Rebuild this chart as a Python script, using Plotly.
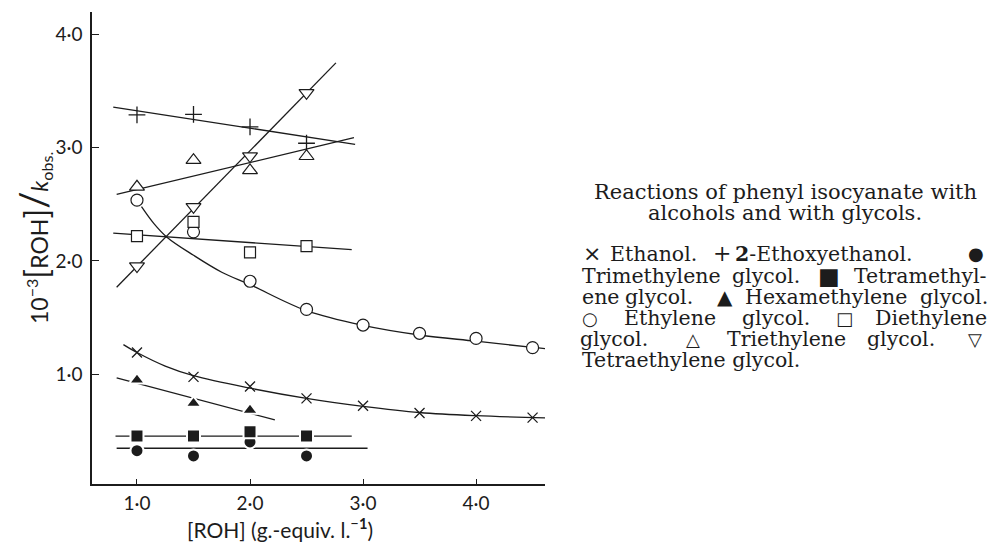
import plotly.graph_objects as go

# ---------------- data ----------------
ethanol_x = [1.0, 1.5, 2.0, 2.5, 3.0, 3.5, 4.0, 4.5]
ethanol_y = [1.19, 0.975, 0.89, 0.785, 0.72, 0.655, 0.63, 0.615]
ethoxy_x = [1.0, 1.5, 2.0, 2.5]
ethoxy_y = [3.29, 3.295, 3.185, 3.04]
trimeth_x = [1.0, 1.5, 2.0, 2.5]
trimeth_y = [0.323, 0.276, 0.40, 0.276]
tetrameth_x = [1.0, 1.5, 2.0, 2.5]
tetrameth_y = [0.452, 0.452, 0.49, 0.452]
hexameth_x = [1.0, 1.5, 2.0]
hexameth_y = [0.947, 0.741, 0.68]
ethylene_x = [1.0, 1.5, 2.0, 2.5, 3.0, 3.5, 4.0, 4.5]
ethylene_y = [2.537, 2.257, 1.82, 1.571, 1.433, 1.36, 1.315, 1.233]
diethylene_x = [1.0, 1.5, 2.0, 2.5]
diethylene_y = [2.219, 2.345, 2.075, 2.13]
triethylene_x = [1.0, 1.5, 2.0, 2.5]
triethylene_y = [2.655, 2.89, 2.80, 2.925]
tetraethylene_x = [1.0, 1.5, 2.0, 2.5]
tetraethylene_y = [1.954, 2.478, 2.926, 3.485]

# drawn (fitted) curves
ethanol_fit_x = [0.88, 1.0, 1.25, 1.5, 2.0, 2.5, 3.0, 3.5, 4.0, 4.64]
ethanol_fit_y = [1.26, 1.19, 1.07, 0.985, 0.875, 0.785, 0.715, 0.66, 0.632, 0.612]
ethoxy_fit_x = [0.79, 2.93]
ethoxy_fit_y = [3.36, 3.03]
trimeth_fit_x = [0.82, 3.04]
trimeth_fit_y = [0.344, 0.344]
tetrameth_fit_x = [0.81, 2.9]
tetrameth_fit_y = [0.452, 0.452]
hexameth_fit_x = [0.82, 2.22]
hexameth_fit_y = [0.967, 0.594]
ethylene_fit_x = [1.04, 1.15, 1.265, 1.5, 1.75, 2.0, 2.5, 3.0, 3.5, 4.0, 4.5, 4.65]
ethylene_fit_y = [2.48, 2.33, 2.21, 2.05, 1.9, 1.79, 1.56, 1.43, 1.345, 1.29, 1.235, 1.22]
diethylene_fit_x = [0.79, 2.9]
diethylene_fit_y = [2.245, 2.10]
triethylene_fit_x = [0.82, 2.92]
triethylene_fit_y = [2.587, 3.09]
tetraethylene_fit_x = [0.82, 2.76]
tetraethylene_fit_y = [1.767, 3.75]

x_ticks = [1, 2, 3, 4]
x_ticktext = ["1·0", "2·0", "3·0", "4·0"]
y_ticks = [1, 2, 3, 4]
y_ticktext = ["1·0", "2·0", "3·0", "4·0"]

INK = "#1c1c1c"

fig = go.Figure()

fits = [
    (ethanol_fit_x, ethanol_fit_y, "spline"),
    (ethoxy_fit_x, ethoxy_fit_y, "linear"),
    (trimeth_fit_x, trimeth_fit_y, "linear"),
    (tetrameth_fit_x, tetrameth_fit_y, "linear"),
    (hexameth_fit_x, hexameth_fit_y, "linear"),
    (ethylene_fit_x, ethylene_fit_y, "spline"),
    (diethylene_fit_x, diethylene_fit_y, "linear"),
    (triethylene_fit_x, triethylene_fit_y, "linear"),
    (tetraethylene_fit_x, tetraethylene_fit_y, "linear"),
]
for fx, fy, shp in fits:
    fig.add_trace(go.Scatter(x=fx, y=fy, mode="lines",
                             line=dict(color=INK, width=1.3, shape=shp, smoothing=1.0),
                             hoverinfo="skip", showlegend=False))

series = [
    ("Ethanol", ethanol_x, ethanol_y, "x-thin", 10, INK, INK, 1.3),
    ("2-Ethoxyethanol", ethoxy_x, ethoxy_y, "cross-thin", 12, INK, INK, 1.3),
    ("Trimethylene glycol", trimeth_x, trimeth_y, "circle", 13, INK, "white", 2),
    ("Tetramethylene glycol", tetrameth_x, tetrameth_y, "square", 13, INK, "white", 2),
    ("Hexamethylene glycol", hexameth_x, hexameth_y, "triangle-up", 14, INK, "white", 2),
    ("Ethylene glycol", ethylene_x, ethylene_y, "circle", 12, "white", INK, 1.2),
    ("Diethylene glycol", diethylene_x, diethylene_y, "square", 11, "white", INK, 1.2),
    ("Triethylene glycol", triethylene_x, triethylene_y, "triangle-up", 13, "white", INK, 1.2),
    ("Tetraethylene glycol", tetraethylene_x, tetraethylene_y, "triangle-down", 13, "white", INK, 1.2),
]
for name, sx, sy, sym_, sz, fill, edge, lw in series:
    fig.add_trace(go.Scatter(x=sx, y=sy, mode="markers", name=name,
                             marker=dict(symbol=sym_, size=sz, color=fill,
                                         line=dict(color=edge, width=lw)),
                             showlegend=False))

# plot area in pixels
L, R, T, B = 92, 545, 12, 484
W_FIG, H_FIG = 991, 545


def pxx(p):
    return (p - L) / (R - L)


def pxy(p):
    return (B - p) / (B - T)


AXFONT = dict(family="Lato, DejaVu Sans, sans-serif", size=19, color=INK)

fig.update_layout(
    width=W_FIG, height=H_FIG,
    margin=dict(l=L, r=W_FIG - R, t=T, b=H_FIG - B),
    paper_bgcolor="white", plot_bgcolor="white",
    xaxis=dict(range=[0.602, 4.61], tickvals=x_ticks, ticktext=x_ticktext,
               ticks="inside", ticklen=5, tickwidth=1.3, tickcolor=INK,
               showline=True, linecolor=INK, linewidth=1.5, showgrid=False,
               zeroline=False, tickfont=AXFONT, ticklabelstandoff=1),
    yaxis=dict(range=[0.028, 4.2], tickvals=y_ticks, ticktext=y_ticktext,
               ticks="inside", ticklen=7, tickwidth=1.3, tickcolor=INK,
               showline=True, linecolor=INK, linewidth=1.5, showgrid=False,
               zeroline=False, tickfont=AXFONT, ticklabelstandoff=4),
)

ann = []
# axis titles
ann.append(dict(x=pxx(280), y=pxy(528), xref="paper", yref="paper",
                text="[ROH] (g.-equiv. l.<sup>−<b>1</b></sup>)", showarrow=False,
                font=dict(family="Lato, DejaVu Sans, sans-serif", size=21, color=INK),
                xanchor="center", yanchor="middle"))
ann.append(dict(x=pxx(33), y=pxy(238), xref="paper", yref="paper", textangle=-90,
                text=("10<sup>−3</sup><span style='font-size:32px'>[</span>ROH"
                      "<span style='font-size:32px'>]</span>"
                      "<span style='font-size:38px'>/</span><i>k</i><sub>obs.</sub>"),
                showarrow=False,
                font=dict(family="Lato, DejaVu Sans, sans-serif", size=23, color=INK),
                xanchor="center", yanchor="middle"))

TITLEFONT = dict(family="DejaVu Serif, Liberation Serif, serif", size=21, color=INK)
SERIF = dict(family="DejaVu Serif, Liberation Serif, serif", size=20.5, color=INK)
# caption title
ann.append(dict(x=pxx(785), y=pxy(192), xref="paper", yref="paper",
                text="Reactions of phenyl isocyanate with", showarrow=False,
                font=TITLEFONT, xanchor="center", yanchor="middle"))
ann.append(dict(x=pxx(785), y=pxy(213), xref="paper", yref="paper",
                text="alcohols and with glycols.", showarrow=False,
                font=TITLEFONT, xanchor="center", yanchor="middle"))


def sym(s, size, family="DejaVu Sans"):
    return f"<span style='font-family:{family};font-size:{size}px'>{s}</span>"


caption_lines = [
    (254, [(sym("×", 22), 581, "left"), ("Ethanol.", 608, "left"),
           (sym("+", 22, "DejaVu Serif"), 711, "left"),
           ("<b>2</b>-Ethoxyethanol.", 733, "left"), (sym("●", 18), 986, "right")]),
    (276, [("Trimethylene", 580, "left"), ("glycol.", 730, "left"), (sym("■", 23), 816, "left"),
           ("Tetramethyl-", 989, "right")]),
    (297, [("ene", 580, "left"), ("glycol.", 623, "left"), (sym("▲", 20), 715, "left"),
           ("Hexamethylene", 743, "left"), ("glycol.", 990, "right")]),
    (318, [(sym("○", 18), 580, "left"), ("Ethylene", 622, "left"), ("glycol.", 740, "left"),
           (sym("□", 18), 834, "left"), ("Diethylene", 989, "right")]),
    (339, [("glycol.", 578, "left"), (sym("△", 18), 684, "left"), ("Triethylene", 725, "left"),
           ("glycol.", 865, "left"), (sym("▽", 18), 984, "right")]),
    (360, [("Tetraethylene glycol.", 580, "left")]),
]
for ypx, words in caption_lines:
    for txt, xp, anc in words:
        ann.append(dict(x=pxx(xp), y=pxy(ypx), xref="paper", yref="paper",
                        text=txt, showarrow=False, font=SERIF,
                        xanchor=anc, yanchor="middle"))

fig.update_layout(annotations=ann)

fig.write_html("out.html",
               config={"displayModeBar": False},
               post_script="document.body.style.margin='0';"
                           "document.documentElement.style.overflow='hidden';")
